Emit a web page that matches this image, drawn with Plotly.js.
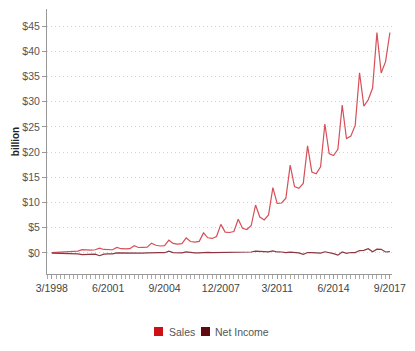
<!DOCTYPE html>
<html>
<head>
<meta charset="utf-8">
<script src="https://cdn.plot.ly/plotly-3.0.1.min.js"></script>
<style>html,body{margin:0;padding:0;background:#fff;}#chart{width:415px;height:351px;}</style>
</head>
<body>
<div id="chart"></div>
<script>
// Quarter-end months, 3/1998 .. 9/2017
const years = [1998,1999,2000,2001,2002,2003,2004,2005,2006,2007,2008,2009,2010,2011,2012,2013,2014,2015,2016,2017];
const quarterMonths = ['03','06','09','12'];

// Sales, billion USD
const sales = [
  0.087,0.116,0.154,0.253,
  0.294,0.314,0.356,0.676,
  0.574,0.578,0.638,0.972,
  0.701,0.668,0.639,1.115,
  0.847,0.806,0.851,1.429,
  1.084,1.100,1.134,1.946,
  1.530,1.387,1.462,2.541,
  1.902,1.753,1.858,2.977,
  2.279,2.139,2.307,3.986,
  3.015,2.886,3.262,5.673,
  4.135,4.063,4.264,6.704,
  4.889,4.651,5.449,9.519,
  7.131,6.566,7.560,12.948,
  9.857,9.913,10.876,17.431,
  13.185,12.834,13.806,21.268,
  16.070,15.704,17.092,25.587,
  19.741,19.340,20.579,29.328,
  22.717,23.185,25.358,35.746,
  29.128,30.404,32.714,43.741,
  35.714,37.955,43.744
];

// Net income, billion USD
const netIncome = [
  -0.010,-0.028,-0.045,-0.039,
  -0.036,-0.138,-0.197,-0.323,
  -0.308,-0.317,-0.241,-0.545,
  -0.234,-0.168,-0.170,0.005,
  -0.002,-0.094,-0.035,0.003,
  0.000,-0.043,0.015,0.073,
  0.108,0.076,0.054,0.347,
  0.078,0.052,0.030,0.199,
  0.051,0.022,0.019,0.098,
  0.111,0.078,0.080,0.207,
  0.143,0.158,0.118,0.225,
  0.177,0.142,0.199,0.384,
  0.299,0.207,0.231,0.416,
  0.201,0.191,0.063,0.177,
  0.130,0.007,-0.274,0.097,
  0.082,-0.007,-0.041,0.239,
  0.108,-0.126,-0.437,0.214,
  -0.057,0.092,0.079,0.482,
  0.513,0.857,0.252,0.749,
  0.724,0.197,0.256
];

const seriesNames = ['Sales', 'Net Income'];
const yTickVals = [0,5,10,15,20,25,30,35,40,45];
const yTickText = ['$0','$5','$10','$15','$20','$25','$30','$35','$40','$45'];

const dates = [];
years.forEach(y => quarterMonths.forEach(m => dates.push(y + '-' + m + '-01')));
const x = dates.slice(0, sales.length);

const legendColors = ['#cc1016', '#5e0a10'];
const lineColors = ['#d74f58', '#8c3640'];

const traces = [
  {x: x, y: sales, type: 'scatter', mode: 'lines', name: seriesNames[0],
   line: {color: lineColors[0], width: 1.2}, hoverinfo: 'skip'},
  {x: x, y: netIncome, type: 'scatter', mode: 'lines', name: seriesNames[1],
   line: {color: lineColors[1], width: 1.2}, hoverinfo: 'skip'}
];

// Custom legend (squares + labels) placed in paper coordinates
const pw = 345, ph = 265, pl = 47, pt = 9;
const px = v => (v - pl) / pw;
const py = v => (pt + ph - v) / ph;
const legendSquares = [154, 201];
const legendTexts = [167, 213];
const shapes = legendSquares.map((sx, i) => ({
  type: 'rect', xref: 'paper', yref: 'paper',
  x0: px(sx), x1: px(sx + 9), y0: py(336), y1: py(327),
  fillcolor: legendColors[i], line: {width: 0}
}));
const annotations = legendTexts.map((tx, i) => ({
  xref: 'paper', yref: 'paper', x: px(tx), y: py(331.5),
  xanchor: 'left', yanchor: 'middle', showarrow: false,
  text: seriesNames[i], font: {size: 10.5, color: '#555'}
}));

const layout = {
  width: 415, height: 351,
  margin: {l: 47, r: 23, t: 9, b: 77},
  paper_bgcolor: '#fff', plot_bgcolor: '#fff',
  font: {family: 'Liberation Sans, Arial, sans-serif', size: 10, color: '#555'},
  showlegend: false,
  shapes: shapes,
  annotations: annotations,
  xaxis: {
    type: 'date',
    range: ['1997-11-20', '2017-10-15'],
    tick0: '1998-03-01', dtick: 'M39',
    tickformat: '%-m/%Y',
    ticks: 'outside', ticklen: 4, tickcolor: '#999',
    minor: {dtick: 'M3', tick0: '1998-03-01', ticks: 'outside', ticklen: 4, tickcolor: '#aaa', showgrid: false},
    showline: true, linecolor: '#999', linewidth: 1,
    showgrid: false, zeroline: false,
    tickfont: {size: 10.5, color: '#444'}
  },
  yaxis: {
    range: [-4.17, 48.4],
    tickvals: yTickVals, ticktext: yTickText,
    ticks: 'outside', ticklen: 4, tickcolor: '#999',
    showline: true, linecolor: '#999', linewidth: 1,
    showgrid: true, gridcolor: '#d2d2d2', griddash: '1px,3px', gridwidth: 1,
    zeroline: false,
    tickfont: {size: 10.5, color: '#555'},
    title: {text: 'billion', font: {size: 10, color: '#222', weight: 600}, standoff: 0}
  }
};

Plotly.newPlot('chart', traces, layout, {displayModeBar: false, staticPlot: true});
</script>
</body>
</html>
